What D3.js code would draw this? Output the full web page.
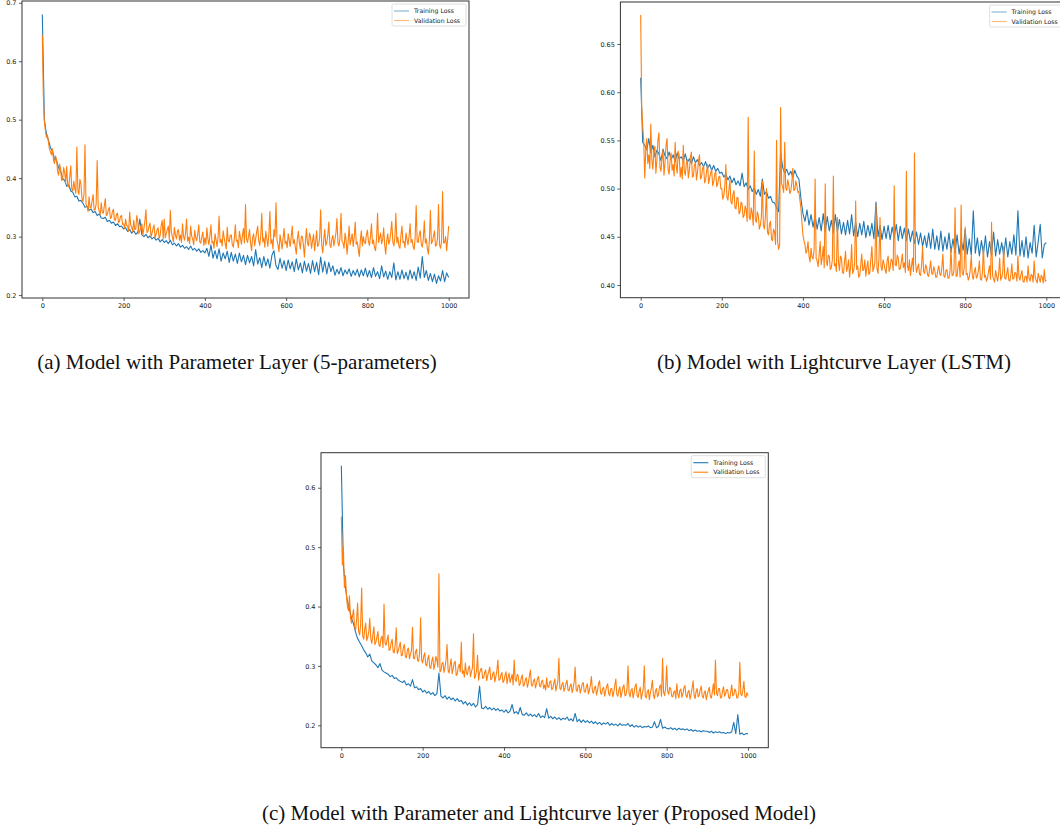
<!DOCTYPE html>
<html>
<head>
<meta charset="utf-8">
<script src="https://cdn.jsdelivr.net/npm/d3@7"></script>
<style>
body { margin: 0; background: #fff; }
svg { display: block; background: #fff; }
.tick text { font-family: "DejaVu Sans", sans-serif; font-size: 6.5px; fill: #222; }
.tick line { stroke: #333; stroke-width: 0.8; }
.legend text { font-family: "DejaVu Sans", sans-serif; font-size: 6.2px; fill: #222; }
.caption { font-family: "Liberation Serif", "Times New Roman", serif; font-size: 21px; fill: #111; }
</style>
</head>
<body>
<svg width="1060" height="832"></svg>
<script>
// ---- data ----
// training loss: one value every 5 epochs (0..1000)
// validation loss: one value every 2.5 epochs (0..1000), it is much noisier
var trainStep = 5;
var valStep = 2.5;
var xTicks = [0, 200, 400, 600, 800, 1000];
var yTicksA = [0.2, 0.3, 0.4, 0.5, 0.6, 0.7];
var yTicksB = [0.40, 0.45, 0.50, 0.55, 0.60, 0.65];
var yTicksC = [0.2, 0.3, 0.4, 0.5, 0.6];
var legendLabels = ["Training Loss", "Validation Loss"];
var captions = [
	"(a) Model with Parameter Layer (5-parameters)",
	"(b) Model with Lightcurve Layer (LSTM)",
	"(c) Model with Parameter and Lightcurve layer (Proposed Model)"
];

// (a) parameter layer
var trainA = [
	0.680, 0.500, 0.476, 0.465, 0.452, 0.446, 0.433, 0.430, 0.418, 0.412, 0.399, 0.396, 0.386, 0.389, 0.378, 0.376, 0.368, 0.369, 0.361, 0.362,
	0.357, 0.350, 0.352, 0.345, 0.347, 0.341, 0.343, 0.336, 0.339, 0.332, 0.331, 0.333, 0.326, 0.328, 0.323, 0.325, 0.319, 0.322, 0.317, 0.318,
	0.313, 0.315, 0.309, 0.312, 0.306, 0.310, 0.304, 0.307, 0.330, 0.303, 0.300, 0.304, 0.298, 0.301, 0.296, 0.299, 0.294, 0.297, 0.291, 0.295,
	0.290, 0.293, 0.288, 0.294, 0.286, 0.289, 0.284, 0.288, 0.282, 0.285, 0.280, 0.283, 0.278, 0.284, 0.277, 0.280, 0.275, 0.279, 0.273, 0.276,
	0.272, 0.280, 0.266, 0.286, 0.263, 0.276, 0.262, 0.279, 0.258, 0.272, 0.262, 0.275, 0.256, 0.273, 0.258, 0.270, 0.254, 0.272, 0.257, 0.268,
	0.252, 0.268, 0.255, 0.266, 0.250, 0.278, 0.253, 0.264, 0.247, 0.266, 0.250, 0.262, 0.246, 0.268, 0.276, 0.250, 0.244, 0.263, 0.246, 0.259,
	0.242, 0.260, 0.245, 0.257, 0.240, 0.262, 0.243, 0.255, 0.238, 0.258, 0.241, 0.254, 0.237, 0.259, 0.240, 0.256, 0.235, 0.265, 0.239, 0.258,
	0.236, 0.256, 0.240, 0.250, 0.234, 0.244, 0.236, 0.247, 0.233, 0.243, 0.236, 0.245, 0.232, 0.242, 0.234, 0.244, 0.231, 0.243, 0.233, 0.246,
	0.231, 0.242, 0.230, 0.247, 0.232, 0.240, 0.228, 0.250, 0.231, 0.241, 0.227, 0.240, 0.230, 0.255, 0.226, 0.240, 0.227, 0.243, 0.228, 0.239,
	0.226, 0.243, 0.228, 0.240, 0.225, 0.248, 0.229, 0.266, 0.230, 0.242, 0.225, 0.237, 0.223, 0.236, 0.220, 0.233, 0.224, 0.242, 0.223, 0.238,
	0.230
];
var valA = [
	0.645, 0.540, 0.497, 0.482, 0.470, 0.474, 0.462, 0.450, 0.445, 0.440, 0.450, 0.431, 0.425, 0.438, 0.432, 0.412, 0.405, 0.424, 0.416, 0.396,
	0.398, 0.418, 0.410, 0.392, 0.420, 0.388, 0.385, 0.402, 0.421, 0.381, 0.378, 0.395, 0.383, 0.374, 0.453, 0.380, 0.372, 0.398, 0.390, 0.366,
	0.360, 0.372, 0.457, 0.355, 0.352, 0.343, 0.368, 0.350, 0.349, 0.361, 0.372, 0.345, 0.346, 0.356, 0.430, 0.351, 0.344, 0.337, 0.358, 0.342,
	0.340, 0.352, 0.365, 0.336, 0.338, 0.346, 0.350, 0.331, 0.333, 0.343, 0.347, 0.329, 0.328, 0.338, 0.340, 0.324, 0.326, 0.335, 0.336, 0.321,
	0.322, 0.314, 0.330, 0.319, 0.318, 0.309, 0.342, 0.320, 0.316, 0.308, 0.328, 0.312, 0.313, 0.336, 0.325, 0.305, 0.310, 0.318, 0.322, 0.303,
	0.314, 0.327, 0.346, 0.307, 0.309, 0.318, 0.323, 0.300, 0.306, 0.314, 0.320, 0.298, 0.304, 0.312, 0.315, 0.297, 0.302, 0.319, 0.328, 0.296,
	0.330, 0.298, 0.305, 0.312, 0.318, 0.295, 0.345, 0.308, 0.300, 0.291, 0.316, 0.303, 0.296, 0.309, 0.312, 0.294, 0.303, 0.290, 0.322, 0.300,
	0.294, 0.306, 0.330, 0.292, 0.299, 0.288, 0.318, 0.301, 0.296, 0.286, 0.311, 0.298, 0.293, 0.305, 0.320, 0.291, 0.289, 0.300, 0.308, 0.285,
	0.298, 0.287, 0.315, 0.296, 0.286, 0.302, 0.320, 0.289, 0.292, 0.280, 0.305, 0.294, 0.283, 0.299, 0.335, 0.290, 0.295, 0.284, 0.310, 0.298,
	0.288, 0.279, 0.316, 0.293, 0.291, 0.302, 0.303, 0.286, 0.282, 0.297, 0.320, 0.292, 0.294, 0.281, 0.309, 0.298, 0.287, 0.302, 0.314, 0.289,
	0.355, 0.296, 0.290, 0.301, 0.312, 0.289, 0.276, 0.298, 0.305, 0.284, 0.296, 0.308, 0.318, 0.293, 0.285, 0.300, 0.340, 0.291, 0.298, 0.282,
	0.309, 0.296, 0.283, 0.304, 0.343, 0.288, 0.295, 0.279, 0.312, 0.300, 0.358, 0.294, 0.286, 0.274, 0.303, 0.291, 0.279, 0.297, 0.314, 0.288,
	0.292, 0.281, 0.305, 0.294, 0.283, 0.300, 0.318, 0.288, 0.295, 0.282, 0.270, 0.296, 0.309, 0.290, 0.279, 0.301, 0.300, 0.285, 0.265, 0.293,
	0.314, 0.289, 0.284, 0.306, 0.299, 0.280, 0.293, 0.304, 0.276, 0.291, 0.310, 0.283, 0.287, 0.298, 0.346, 0.286, 0.272, 0.294, 0.312, 0.285,
	0.290, 0.302, 0.325, 0.287, 0.281, 0.296, 0.302, 0.284, 0.295, 0.306, 0.331, 0.289, 0.284, 0.297, 0.340, 0.292, 0.289, 0.280, 0.306, 0.294,
	0.270, 0.291, 0.318, 0.286, 0.295, 0.305, 0.283, 0.299, 0.325, 0.287, 0.291, 0.279, 0.266, 0.293, 0.310, 0.284, 0.300, 0.290, 0.288, 0.303,
	0.311, 0.292, 0.285, 0.300, 0.322, 0.288, 0.294, 0.281, 0.276, 0.297, 0.340, 0.290, 0.298, 0.306, 0.288, 0.295, 0.315, 0.286, 0.270, 0.293,
	0.305, 0.287, 0.293, 0.308, 0.326, 0.291, 0.284, 0.298, 0.340, 0.289, 0.299, 0.283, 0.280, 0.302, 0.318, 0.290, 0.292, 0.281, 0.306, 0.295,
	0.286, 0.301, 0.322, 0.290, 0.295, 0.283, 0.278, 0.298, 0.353, 0.291, 0.290, 0.304, 0.310, 0.287, 0.282, 0.296, 0.327, 0.289, 0.296, 0.280,
	0.270, 0.294, 0.345, 0.288, 0.292, 0.301, 0.310, 0.284, 0.285, 0.297, 0.355, 0.286, 0.280, 0.293, 0.377, 0.289, 0.290, 0.300, 0.276, 0.296,
	0.318
];

// (b) lightcurve layer
var trainB = [
	0.615, 0.548, 0.545, 0.540, 0.552, 0.537, 0.545, 0.533, 0.540, 0.536, 0.529, 0.541, 0.534, 0.531, 0.538, 0.530, 0.535, 0.528, 0.537, 0.531,
	0.533, 0.529, 0.536, 0.527, 0.531, 0.526, 0.533, 0.527, 0.530, 0.524, 0.527, 0.523, 0.528, 0.521, 0.525, 0.519, 0.524, 0.518, 0.521, 0.516,
	0.517, 0.512, 0.515, 0.509, 0.513, 0.506, 0.511, 0.504, 0.508, 0.503, 0.516, 0.502, 0.506, 0.499, 0.503, 0.497, 0.501, 0.494, 0.499, 0.492,
	0.510, 0.494, 0.497, 0.490, 0.492, 0.486, 0.485, 0.480, 0.476, 0.537, 0.522, 0.516, 0.520, 0.514, 0.518, 0.512, 0.519, 0.513, 0.510, 0.490,
	0.474, 0.466, 0.478, 0.462, 0.473, 0.460, 0.472, 0.458, 0.470, 0.456, 0.474, 0.455, 0.471, 0.456, 0.467, 0.454, 0.473, 0.455, 0.468, 0.453,
	0.465, 0.452, 0.467, 0.453, 0.473, 0.451, 0.465, 0.450, 0.464, 0.452, 0.466, 0.449, 0.462, 0.451, 0.464, 0.448, 0.486, 0.450, 0.462, 0.447,
	0.461, 0.448, 0.462, 0.447, 0.460, 0.449, 0.463, 0.446, 0.461, 0.448, 0.459, 0.446, 0.458, 0.445, 0.456, 0.443, 0.455, 0.442, 0.454, 0.440,
	0.451, 0.439, 0.454, 0.438, 0.458, 0.437, 0.451, 0.436, 0.456, 0.435, 0.450, 0.437, 0.454, 0.434, 0.448, 0.433, 0.452, 0.432, 0.447, 0.436,
	0.458, 0.432, 0.448, 0.431, 0.477, 0.433, 0.449, 0.430, 0.446, 0.432, 0.451, 0.429, 0.445, 0.431, 0.455, 0.430, 0.447, 0.432, 0.444, 0.430,
	0.449, 0.429, 0.445, 0.432, 0.452, 0.431, 0.477, 0.430, 0.446, 0.429, 0.450, 0.428, 0.444, 0.433, 0.462, 0.429, 0.445, 0.463, 0.428, 0.442,
	0.444
];
var valB = [
	0.680, 0.585, 0.565, 0.550, 0.511, 0.540, 0.552, 0.526, 0.535, 0.521, 0.567, 0.529, 0.520, 0.538, 0.544, 0.516, 0.530, 0.550, 0.558, 0.522,
	0.518, 0.531, 0.540, 0.514, 0.527, 0.545, 0.552, 0.520, 0.515, 0.529, 0.537, 0.519, 0.525, 0.513, 0.548, 0.523, 0.516, 0.539, 0.534, 0.512,
	0.522, 0.510, 0.545, 0.518, 0.514, 0.526, 0.530, 0.511, 0.519, 0.532, 0.538, 0.512, 0.513, 0.524, 0.527, 0.509, 0.517, 0.529, 0.535, 0.510,
	0.512, 0.521, 0.524, 0.506, 0.509, 0.518, 0.525, 0.505, 0.511, 0.516, 0.520, 0.503, 0.507, 0.515, 0.518, 0.502, 0.505, 0.512, 0.513, 0.500,
	0.500, 0.489, 0.493, 0.503, 0.525, 0.491, 0.488, 0.498, 0.509, 0.486, 0.484, 0.494, 0.498, 0.480, 0.479, 0.491, 0.490, 0.474, 0.476, 0.486,
	0.484, 0.470, 0.472, 0.482, 0.478, 0.466, 0.574, 0.470, 0.468, 0.480, 0.474, 0.462, 0.539, 0.468, 0.465, 0.476, 0.472, 0.458, 0.462, 0.470,
	0.508, 0.462, 0.458, 0.471, 0.500, 0.455, 0.452, 0.463, 0.466, 0.448, 0.446, 0.458, 0.455, 0.442, 0.550, 0.445, 0.437, 0.441, 0.584, 0.505,
	0.502, 0.496, 0.548, 0.501, 0.498, 0.509, 0.504, 0.495, 0.497, 0.506, 0.521, 0.498, 0.499, 0.508, 0.503, 0.496, 0.497, 0.488, 0.480, 0.465,
	0.452, 0.446, 0.442, 0.433, 0.436, 0.445, 0.430, 0.424, 0.438, 0.429, 0.427, 0.436, 0.510, 0.428, 0.425, 0.419, 0.432, 0.445, 0.421, 0.428,
	0.440, 0.418, 0.505, 0.425, 0.420, 0.431, 0.430, 0.416, 0.418, 0.426, 0.513, 0.420, 0.422, 0.414, 0.470, 0.424, 0.415, 0.430, 0.428, 0.413,
	0.412, 0.424, 0.435, 0.414, 0.418, 0.426, 0.408, 0.419, 0.442, 0.412, 0.415, 0.423, 0.487, 0.416, 0.420, 0.408, 0.410, 0.421, 0.432, 0.415,
	0.416, 0.426, 0.409, 0.418, 0.425, 0.411, 0.413, 0.427, 0.440, 0.414, 0.418, 0.424, 0.483, 0.417, 0.412, 0.428, 0.470, 0.419, 0.415, 0.426,
	0.422, 0.416, 0.412, 0.425, 0.430, 0.414, 0.418, 0.427, 0.425, 0.415, 0.503, 0.421, 0.420, 0.431, 0.428, 0.416, 0.417, 0.424, 0.432, 0.418,
	0.423, 0.413, 0.518, 0.420, 0.415, 0.426, 0.410, 0.419, 0.428, 0.414, 0.537, 0.423, 0.413, 0.418, 0.422, 0.411, 0.410, 0.421, 0.440, 0.414,
	0.412, 0.421, 0.418, 0.410, 0.409, 0.417, 0.425, 0.412, 0.411, 0.419, 0.415, 0.408, 0.408, 0.416, 0.420, 0.411, 0.410, 0.418, 0.432, 0.409,
	0.408, 0.415, 0.416, 0.407, 0.407, 0.414, 0.438, 0.410, 0.410, 0.416, 0.480, 0.409, 0.409, 0.420, 0.425, 0.408, 0.483, 0.413, 0.410, 0.418,
	0.460, 0.411, 0.412, 0.405, 0.408, 0.416, 0.430, 0.409, 0.406, 0.414, 0.418, 0.407, 0.409, 0.415, 0.425, 0.406, 0.405, 0.413, 0.440, 0.408,
	0.410, 0.404, 0.407, 0.414, 0.420, 0.406, 0.465, 0.410, 0.406, 0.403, 0.415, 0.409, 0.404, 0.412, 0.428, 0.405, 0.408, 0.413, 0.440, 0.407,
	0.406, 0.412, 0.418, 0.405, 0.404, 0.410, 0.422, 0.406, 0.407, 0.413, 0.412, 0.404, 0.430, 0.408, 0.405, 0.411, 0.415, 0.404, 0.403, 0.409,
	0.409, 0.403, 0.420, 0.407, 0.404, 0.411, 0.410, 0.403, 0.425, 0.408, 0.405, 0.402, 0.412, 0.407, 0.403, 0.410, 0.408, 0.402, 0.416, 0.404,
	0.405
];

// (c) parameter + lightcurve layer
var trainC = [
	0.637, 0.470, 0.432, 0.408, 0.396, 0.380, 0.371, 0.357, 0.346, 0.340, 0.334, 0.327, 0.322, 0.315, 0.320, 0.308, 0.305, 0.302, 0.297, 0.304,
	0.293, 0.290, 0.288, 0.286, 0.282, 0.284, 0.279, 0.280, 0.276, 0.274, 0.272, 0.275, 0.268, 0.270, 0.266, 0.277, 0.263, 0.265, 0.260, 0.262,
	0.256, 0.259, 0.254, 0.257, 0.252, 0.255, 0.250, 0.253, 0.288, 0.249, 0.246, 0.250, 0.244, 0.248, 0.243, 0.246, 0.241, 0.245, 0.240, 0.242,
	0.236, 0.240, 0.234, 0.238, 0.233, 0.237, 0.231, 0.235, 0.266, 0.229, 0.228, 0.232, 0.227, 0.230, 0.226, 0.229, 0.225, 0.228, 0.224, 0.226,
	0.222, 0.226, 0.221, 0.224, 0.235, 0.220, 0.223, 0.219, 0.230, 0.218, 0.217, 0.221, 0.216, 0.219, 0.215, 0.218, 0.214, 0.220, 0.213, 0.216,
	0.213, 0.228, 0.212, 0.215, 0.211, 0.214, 0.210, 0.213, 0.209, 0.212, 0.210, 0.214, 0.208, 0.211, 0.207, 0.220, 0.206, 0.210, 0.205, 0.209,
	0.205, 0.208, 0.204, 0.207, 0.203, 0.206, 0.202, 0.205, 0.201, 0.204, 0.202, 0.205, 0.200, 0.203, 0.200, 0.202, 0.199, 0.203, 0.200, 0.201,
	0.200, 0.203, 0.198, 0.201, 0.197, 0.200, 0.197, 0.199, 0.196, 0.198, 0.197, 0.199, 0.196, 0.197, 0.206, 0.196, 0.198, 0.210, 0.195, 0.197,
	0.195, 0.194, 0.196, 0.193, 0.195, 0.192, 0.195, 0.193, 0.194, 0.192, 0.194, 0.191, 0.193, 0.190, 0.192, 0.190, 0.191, 0.189, 0.191, 0.190,
	0.190, 0.188, 0.190, 0.187, 0.189, 0.188, 0.189, 0.187, 0.188, 0.186, 0.188, 0.187, 0.189, 0.205, 0.186, 0.218, 0.185, 0.187, 0.184, 0.186,
	0.186
];
var valC = [
	0.551, 0.470, 0.500, 0.432, 0.452, 0.420, 0.400, 0.393, 0.418, 0.381, 0.372, 0.384, 0.395, 0.366, 0.360, 0.377, 0.406, 0.358, 0.352, 0.370,
	0.431, 0.351, 0.345, 0.362, 0.372, 0.343, 0.348, 0.358, 0.380, 0.345, 0.338, 0.352, 0.366, 0.336, 0.340, 0.349, 0.358, 0.335, 0.333, 0.346,
	0.350, 0.331, 0.404, 0.338, 0.335, 0.344, 0.352, 0.326, 0.328, 0.339, 0.345, 0.324, 0.322, 0.336, 0.364, 0.321, 0.325, 0.333, 0.340, 0.317,
	0.318, 0.331, 0.336, 0.315, 0.314, 0.327, 0.330, 0.312, 0.320, 0.326, 0.365, 0.313, 0.312, 0.324, 0.328, 0.309, 0.308, 0.321, 0.381, 0.310,
	0.305, 0.316, 0.322, 0.302, 0.300, 0.312, 0.318, 0.297, 0.296, 0.309, 0.315, 0.294, 0.302, 0.316, 0.310, 0.298, 0.455, 0.290, 0.292, 0.304,
	0.306, 0.289, 0.298, 0.310, 0.336, 0.293, 0.288, 0.301, 0.312, 0.287, 0.295, 0.305, 0.308, 0.284, 0.286, 0.298, 0.303, 0.290, 0.340, 0.287,
	0.292, 0.281, 0.305, 0.288, 0.285, 0.296, 0.300, 0.282, 0.290, 0.297, 0.354, 0.279, 0.283, 0.292, 0.318, 0.276, 0.288, 0.294, 0.296, 0.279,
	0.280, 0.289, 0.293, 0.275, 0.284, 0.291, 0.298, 0.277, 0.278, 0.287, 0.290, 0.273, 0.282, 0.292, 0.310, 0.276, 0.277, 0.285, 0.289, 0.272,
	0.275, 0.284, 0.290, 0.270, 0.281, 0.288, 0.272, 0.279, 0.286, 0.268, 0.310, 0.277, 0.274, 0.286, 0.283, 0.267, 0.270, 0.280, 0.285, 0.266,
	0.268, 0.277, 0.280, 0.264, 0.271, 0.283, 0.293, 0.268, 0.266, 0.275, 0.278, 0.263, 0.270, 0.279, 0.282, 0.266, 0.265, 0.274, 0.276, 0.262,
	0.268, 0.259, 0.280, 0.265, 0.264, 0.273, 0.275, 0.260, 0.262, 0.271, 0.278, 0.258, 0.266, 0.274, 0.313, 0.262, 0.260, 0.269, 0.272, 0.257,
	0.263, 0.271, 0.276, 0.259, 0.258, 0.266, 0.270, 0.255, 0.262, 0.273, 0.298, 0.260, 0.257, 0.267, 0.268, 0.254, 0.261, 0.270, 0.272, 0.256,
	0.256, 0.265, 0.270, 0.253, 0.259, 0.268, 0.282, 0.257, 0.254, 0.263, 0.266, 0.251, 0.258, 0.270, 0.275, 0.255, 0.252, 0.262, 0.264, 0.249,
	0.257, 0.266, 0.270, 0.253, 0.250, 0.261, 0.262, 0.248, 0.256, 0.267, 0.278, 0.252, 0.249, 0.259, 0.265, 0.247, 0.255, 0.264, 0.268, 0.250,
	0.251, 0.262, 0.300, 0.254, 0.248, 0.259, 0.262, 0.246, 0.255, 0.266, 0.270, 0.250, 0.247, 0.258, 0.264, 0.244, 0.253, 0.261, 0.300, 0.249,
	0.246, 0.257, 0.260, 0.243, 0.254, 0.263, 0.276, 0.251, 0.245, 0.258, 0.262, 0.248, 0.252, 0.265, 0.268, 0.249, 0.313, 0.256, 0.250, 0.262,
	0.300, 0.257, 0.252, 0.264, 0.262, 0.249, 0.248, 0.256, 0.258, 0.245, 0.270, 0.253, 0.246, 0.259, 0.261, 0.247, 0.253, 0.263, 0.267, 0.250,
	0.247, 0.256, 0.259, 0.244, 0.252, 0.262, 0.275, 0.251, 0.245, 0.257, 0.262, 0.248, 0.250, 0.260, 0.266, 0.249, 0.246, 0.255, 0.258, 0.243,
	0.252, 0.259, 0.264, 0.248, 0.246, 0.257, 0.270, 0.251, 0.310, 0.254, 0.250, 0.262, 0.262, 0.246, 0.247, 0.258, 0.265, 0.249, 0.253, 0.260,
	0.260, 0.247, 0.245, 0.255, 0.268, 0.250, 0.251, 0.261, 0.258, 0.246, 0.246, 0.256, 0.306, 0.252, 0.250, 0.259, 0.274, 0.248, 0.247, 0.255,
	0.250
];

var colors = ["#1f77b4", "#ff7f0e"];

var panels = [
	{ train: trainA, val: valA, yTicks: yTicksA, fmt: d3.format(".1f"), yDomain: [0.195, 0.703],
	  left: 22, right: 469, top: 1, bottom: 298, caption: captions[0], capX: 237, capY: 369, fadeLegend: true },
	{ train: trainB, val: valB, yTicks: yTicksB, fmt: d3.format(".2f"), yDomain: [0.3868, 0.6936],
	  left: 620.4, right: 1066.6, top: 2, bottom: 297.7, caption: captions[1], capX: 834, capY: 369, fadeLegend: true },
	{ train: trainC, val: valC, yTicks: yTicksC, fmt: d3.format(".1f"), yDomain: [0.1623, 0.659],
	  left: 321, right: 768.3, top: 452.7, bottom: 747.7, caption: captions[2], capX: 539, capY: 820, fadeLegend: false }
];

var svg = d3.select("svg");

panels.forEach(function(p) {
	var x = d3.scaleLinear().domain([-50, 1050]).range([p.left, p.right]);
	var y = d3.scaleLinear().domain(p.yDomain).range([p.bottom, p.top]);

	function lineFor(step) {
		return d3.line()
			.x(function(d, i) { return x(i * step); })
			.y(function(d) { return y(d); });
	}

	var g = svg.append("g");

	g.append("path")
		.datum(p.train)
		.attr("fill", "none")
		.attr("stroke", colors[0])
		.attr("stroke-width", 1.1)
		.attr("stroke-linejoin", "round")
		.attr("d", lineFor(trainStep));

	g.append("path")
		.datum(p.val)
		.attr("fill", "none")
		.attr("stroke", colors[1])
		.attr("stroke-width", 1.1)
		.attr("stroke-linejoin", "round")
		.attr("d", lineFor(valStep));

	var xAxis = g.append("g")
		.attr("transform", "translate(0," + p.bottom + ")")
		.call(d3.axisBottom(x).tickValues(xTicks).tickFormat(d3.format("d")).tickSize(3).tickPadding(2.5));
	xAxis.select(".domain").remove();

	var yAxis = g.append("g")
		.attr("transform", "translate(" + p.left + ",0)")
		.call(d3.axisLeft(y).tickValues(p.yTicks).tickFormat(p.fmt).tickSize(3).tickPadding(2.5));
	yAxis.select(".domain").remove();

	g.selectAll(".tick text")
		.attr("font-family", null)
		.attr("font-size", null)
		.attr("fill", "#222");

	// frame (all four spines)
	g.append("rect")
		.attr("x", p.left)
		.attr("y", p.top)
		.attr("width", p.right - p.left)
		.attr("height", p.bottom - p.top)
		.attr("fill", "none")
		.attr("stroke", "#333")
		.attr("stroke-width", 1);

	// legend, upper right
	var lw = 74, lh = 22;
	var lx = p.right - 3 - lw, ly = p.top + 3;
	var leg = g.append("g").attr("class", "legend");
	leg.append("rect")
		.attr("x", lx).attr("y", ly)
		.attr("width", lw).attr("height", lh)
		.attr("rx", 1.5)
		.attr("fill", "#fff")
		.attr("fill-opacity", 0.8)
		.attr("stroke", "#d6d6d6")
		.attr("stroke-width", 0.8);

	legendLabels.forEach(function(lab, i) {
		var yy = ly + 7 + i * 9.5;
		leg.append("line")
			.attr("x1", lx + 2).attr("x2", lx + 17)
			.attr("y1", yy).attr("y2", yy)
			.attr("stroke", colors[i])
			.attr("stroke-width", 1.1)
			.attr("stroke-opacity", p.fadeLegend ? 0.55 : 1);
		leg.append("text")
			.attr("x", lx + 22)
			.attr("y", yy + 2.2)
			.text(lab);
	});

	svg.append("text")
		.attr("class", "caption")
		.attr("x", p.capX)
		.attr("y", p.capY)
		.attr("text-anchor", "middle")
		.text(p.caption);
});
</script>
</body>
</html>
